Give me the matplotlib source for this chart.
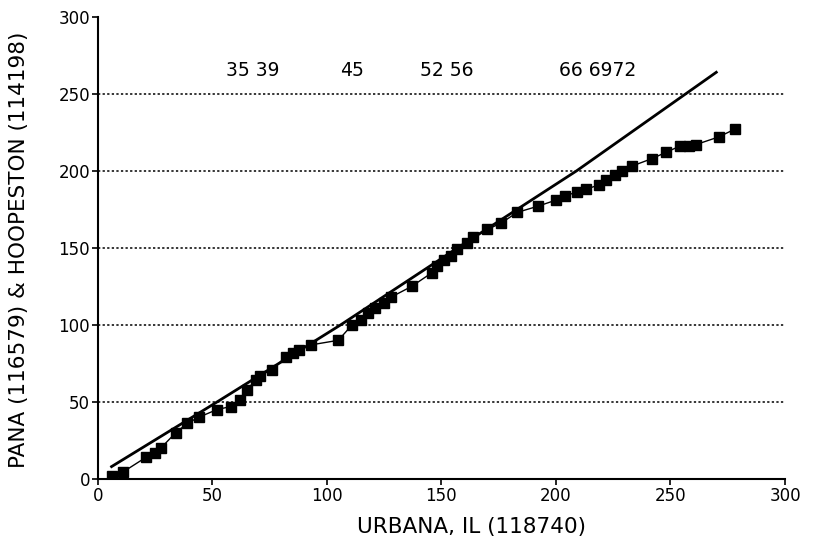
import numpy as np
import matplotlib.pyplot as plt

plt.rcParams['font.family'] = ['DejaVu Sans']

# cumulative values
urbana = [6, 11, 21, 25, 27.5, 34, 39, 44, 52, 58, 62, 65, 69, 71, 76, 82, 85, 88,
          93, 105, 111, 115, 118, 121, 125, 128, 137, 146, 148, 151, 154, 157, 161,
          164, 170, 176, 183, 192, 200, 204, 209, 213, 219, 222, 226, 229, 233, 242,
          248, 254, 258, 261, 271, 278]
pana_hoop = [2, 4.5, 14, 17, 20, 30, 36, 40, 45, 47, 51, 58, 64, 67, 71, 79, 82, 84,
             87, 90, 100, 103, 108, 111, 114, 118, 125, 134, 138, 142, 145, 149, 153,
             157, 162, 166, 173, 177, 181, 184, 186, 188, 191, 194, 197, 200, 203, 208,
             212, 216, 216, 217, 222, 227]

# reference line (read at a few spots)
line_x = [6, 51, 106, 154, 209, 270]
line_y = [8, 49, 100, 147, 200, 264]

# year labels along the top
year_text = ['35 39', '45', '52 56', '66 6972']
year_x = [67.5, 111, 152.5, 218]
year_y = 265

ticks = [0, 50, 100, 150, 200, 250, 300]

fig = plt.figure(figsize=(8.36, 5.43), dpi=100)
ax = fig.add_axes([0.117, 0.118, 0.822, 0.851])

for t in ticks[1:-1]:
    ax.axhline(t, color='black', linestyle=(0, (1.5, 1.5)), linewidth=1.1, zorder=1)

ax.plot(line_x, line_y, color='black', linewidth=2, zorder=2)
ax.plot(urbana, pana_hoop, color='black', linewidth=1, marker='s',
        markersize=7.5, zorder=3)

for s, x in zip(year_text, year_x):
    ax.text(x, year_y, s, ha='center', va='center', fontsize=13.5)

ax.set_xlim(0, 300)
ax.set_ylim(0, 300)
ax.set_xticks(ticks)
ax.set_yticks(ticks)
ax.tick_params(direction='out', length=4.5, width=1.2, labelsize=12, pad=1)
ax.spines['top'].set_visible(False)
ax.spines['right'].set_visible(False)
ax.spines['left'].set_linewidth(1.5)
ax.spines['bottom'].set_linewidth(1.5)

ax.set_xlabel('URBANA, IL (118740)', fontsize=15.5)
ax.set_ylabel('PANA (116579) & HOOPESTON (114198)', fontsize=15.5)
ax.xaxis.set_label_coords(0.544, -0.083)
ax.yaxis.set_label_coords(-0.1, 0.495)

fig.savefig('out.png', dpi=100)
